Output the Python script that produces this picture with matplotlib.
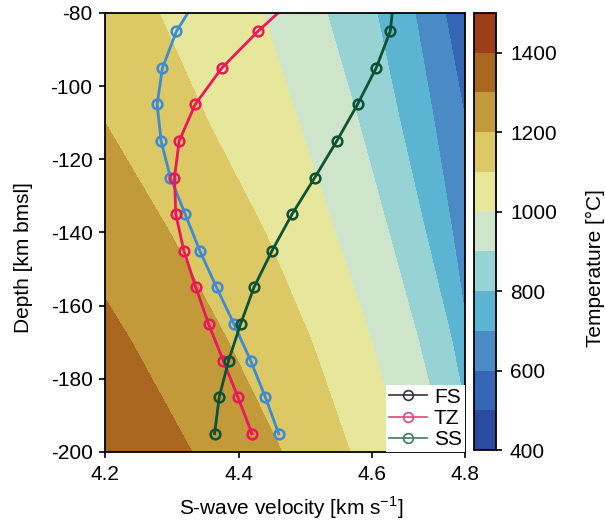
import matplotlib
matplotlib.use("Agg")
import matplotlib.pyplot as plt
import numpy as np
from matplotlib.lines import Line2D

plt.rcParams['font.family'] = ['Liberation Sans', 'DejaVu Sans']
plt.rcParams['font.size'] = 15
plt.rcParams['axes.unicode_minus'] = False

# profiles: depth [km] and S-wave velocity [km/s]
depth = [-75, -85, -95, -105, -115, -125, -135, -145, -155, -165, -175, -185, -195]
vs_fs = [4.341, 4.307, 4.286, 4.278, 4.284, 4.298, 4.320, 4.342, 4.367, 4.393, 4.418, 4.440, 4.460]
vs_tz = [4.489, 4.429, 4.375, 4.335, 4.311, 4.304, 4.306, 4.318, 4.336, 4.355, 4.377, 4.399, 4.420]
vs_ss = [4.633, 4.627, 4.606, 4.578, 4.547, 4.514, 4.480, 4.450, 4.423, 4.403, 4.385, 4.371, 4.364]

# isotherms: velocity where each temperature is reached, at a few depths
iso_depth = [-200, -170, -140, -110, -80]
iso_temp = [1400, 1300, 1200, 1100, 1000, 900, 800, 700, 600, 500]
iso_vs = [
    [4.190, 4.100, 4.000, 3.900, 3.800],
    [4.330, 4.240, 4.140, 4.045, 3.950],
    [4.465, 4.385, 4.297, 4.200, 4.105],
    [4.567, 4.510, 4.440, 4.355, 4.281],
    [4.645, 4.600, 4.544, 4.490, 4.437],
    [4.710, 4.670, 4.625, 4.580, 4.532],
    [4.752, 4.720, 4.680, 4.642, 4.607],
    [4.770, 4.745, 4.720, 4.693, 4.664],
    [4.810, 4.790, 4.765, 4.740, 4.709],
    [4.860, 4.840, 4.815, 4.790, 4.760],
]

temp_levels = np.arange(400, 1600, 100)
temp_colors = ['#2c4b9e', '#3566b6', '#4a8bc6', '#5bb4d2', '#97d2d4', '#cfe5cb',
               '#e7e79c', '#dcc865', '#c29a3a', '#a8661f', '#9c3e18']

x_max = 4.2 + 360 / 668

# temperature grid from the isotherms
vv = np.linspace(4.2, x_max, 300)
dd = np.linspace(-200, -80, 241)
T = np.zeros((len(dd), len(vv)))
for j, d in enumerate(dd):
    pos = [np.interp(d, iso_depth, row) for row in iso_vs]
    T[j] = np.interp(vv, pos, iso_temp)

fig = plt.figure(figsize=(6.05, 5.2), dpi=100)
ax = fig.add_axes([105/605, 1 - 452/520, 360/605, 439/520])
cax = fig.add_axes([474/605, 1 - 450/520, 22/605, 437/520])

cf = ax.contourf(vv, dd, T, levels=temp_levels, colors=temp_colors)

line_kw = dict(marker='o', mfc='none', ms=7, mew=1.8, lw=2.0)
ax.plot(vs_fs, depth, color='#3d8bd3', **line_kw)
ax.plot(vs_tz, depth, color='#e8185a', **line_kw)
ax.plot(vs_ss, depth, color='#0d5234', **line_kw)

ax.set_xlim(4.2, x_max)
ax.set_ylim(-200, -80)
ax.set_xticks([4.2, 4.4, 4.6, x_max])
ax.set_xticklabels(['4.2', '4.4', '4.6', '4.8'])
ax.set_yticks(np.arange(-200, -79, 20))
ax.tick_params(direction='out', length=4, width=1.2, pad=5)
for s in ax.spines.values():
    s.set_linewidth(1.3)

ax.set_xlabel(r'S-wave velocity [km s$^{\mathregular{-1}}$]', va='center')
ax.xaxis.set_label_coords(0.517, -0.128)
ax.set_ylabel('Depth [km bmsl]', va='center')
ax.yaxis.set_label_coords(-0.225, 0.444)

handles = [
    Line2D([], [], color='#333333', marker='o', mfc='none', ms=7, mew=1.2, lw=1.2),
    Line2D([], [], color='#e0457a', marker='o', mfc='none', ms=7, mew=1.2, lw=1.2),
    Line2D([], [], color='#3d7a65', marker='o', mfc='none', ms=7, mew=1.2, lw=1.2),
]
leg = ax.legend(handles, ['FS', 'TZ', 'SS'], loc='lower right', borderaxespad=0,
                frameon=True, fancybox=False, framealpha=1, edgecolor='none',
                labelspacing=0.1, handlelength=1.8, handletextpad=0.35,
                borderpad=0.15, fontsize=15)

cb = fig.colorbar(cf, cax=cax, ticks=np.arange(400, 1500, 200))
cb.outline.set_linewidth(1.3)
cax.tick_params(direction='out', length=4, width=1.2, pad=6)
fig.text(595/605, 1 - 268/520, 'Temperature [°C]', rotation=90,
         ha='center', va='center')

fig.savefig('out.png', dpi=100)
